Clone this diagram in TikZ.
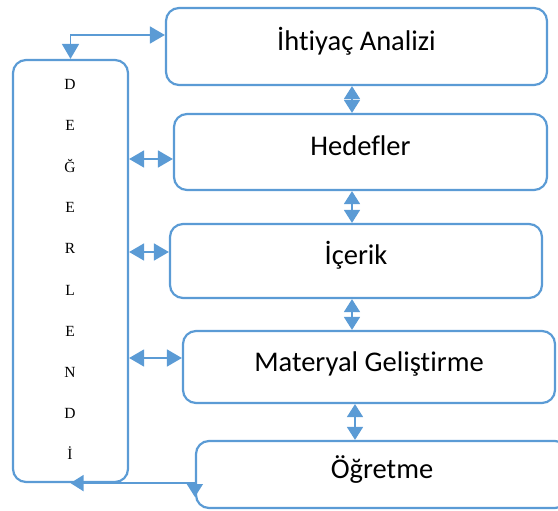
\documentclass[tikz,border=0pt]{standalone}
\usepackage{fontspec}
\setmainfont{Carlito}[Ligatures=NoCommon]
\newfontfamily\letterFont{Liberation Serif}
\usetikzlibrary{arrows.meta}
\definecolor{lineBlue}{RGB}{91,155,213}

\begin{document}
\begin{tikzpicture}
[x=1pt,y=-1pt,
  boxStyle/.style={draw=lineBlue,line width=2.2pt,rounded corners=13pt,inner sep=0pt,
    font=\fontsize{28.5}{34}\selectfont,text height=18pt,text depth=10pt},
  letterStyle/.style={inner sep=0pt,font=\letterFont\fontsize{15.5}{18}\selectfont},
  lineDecorate/.style={lineBlue,line width=1.6pt,
    {Triangle[length=15pt,width=17pt]}-{Triangle[length=15pt,width=17pt]}},
  shortDecorate/.style={lineBlue,line width=1.6pt,
    {Triangle[length=13pt,width=16pt]}-{Triangle[length=13pt,width=16pt]}}]
\useasboundingbox (0,0) rectangle (558,511);
\clip (0,0) rectangle (558,511);
\node[boxStyle,minimum width=115pt,minimum height=422pt](degerlendirme) at (70.5,271) {};
\node[boxStyle,minimum width=381pt,minimum height=77pt](ihtiyac) at (356.5,46.5) {İhtiyaç Analizi};
\node[boxStyle,minimum width=373pt,minimum height=76pt](hedef) at (360.5,152) {Hedefler};
\node[boxStyle,minimum width=372pt,minimum height=74pt](icerik) at (356,261) {İçerik};
\node[boxStyle,minimum width=372pt,minimum height=72pt](materyal) at (369,367) {Materyal Geliştirme};
\node[boxStyle,minimum width=372pt,minimum height=67pt](ogretme) at (382,474.5) {Öğretme};
\foreach \letter [count=\i from 0] in {D,E,Ğ,E,R,L,E,N,D,İ}
{
  \node[letterStyle,anchor=base](letter\i) at (70,90+41*\i) {\letter};
}
\coordinate (colA) at (352,0);
\coordinate (colB) at (355,0);
\foreach \upper/\lower/\col in {
  ihtiyac/hedef/colA, hedef/icerik/colA, icerik/materyal/colA, materyal/ogretme/colB}
{
  \draw[shortDecorate] (\upper.south -| \col) -- (\lower.north -| \col);
}
\foreach \target/\ypos in {hedef/159, icerik/252, materyal/358}
{
  \coordinate (level) at (0,\ypos);
  \draw[lineDecorate] (degerlendirme.east |- level) -- (\target.west |- level);
}
\draw[lineDecorate] ([yshift=11.5pt]ihtiyac.west) -| (degerlendirme.north);
\draw[shortDecorate] (degerlendirme.south) -| ([yshift=-22.5pt]ogretme.west);
\end{tikzpicture}
\end{document}
